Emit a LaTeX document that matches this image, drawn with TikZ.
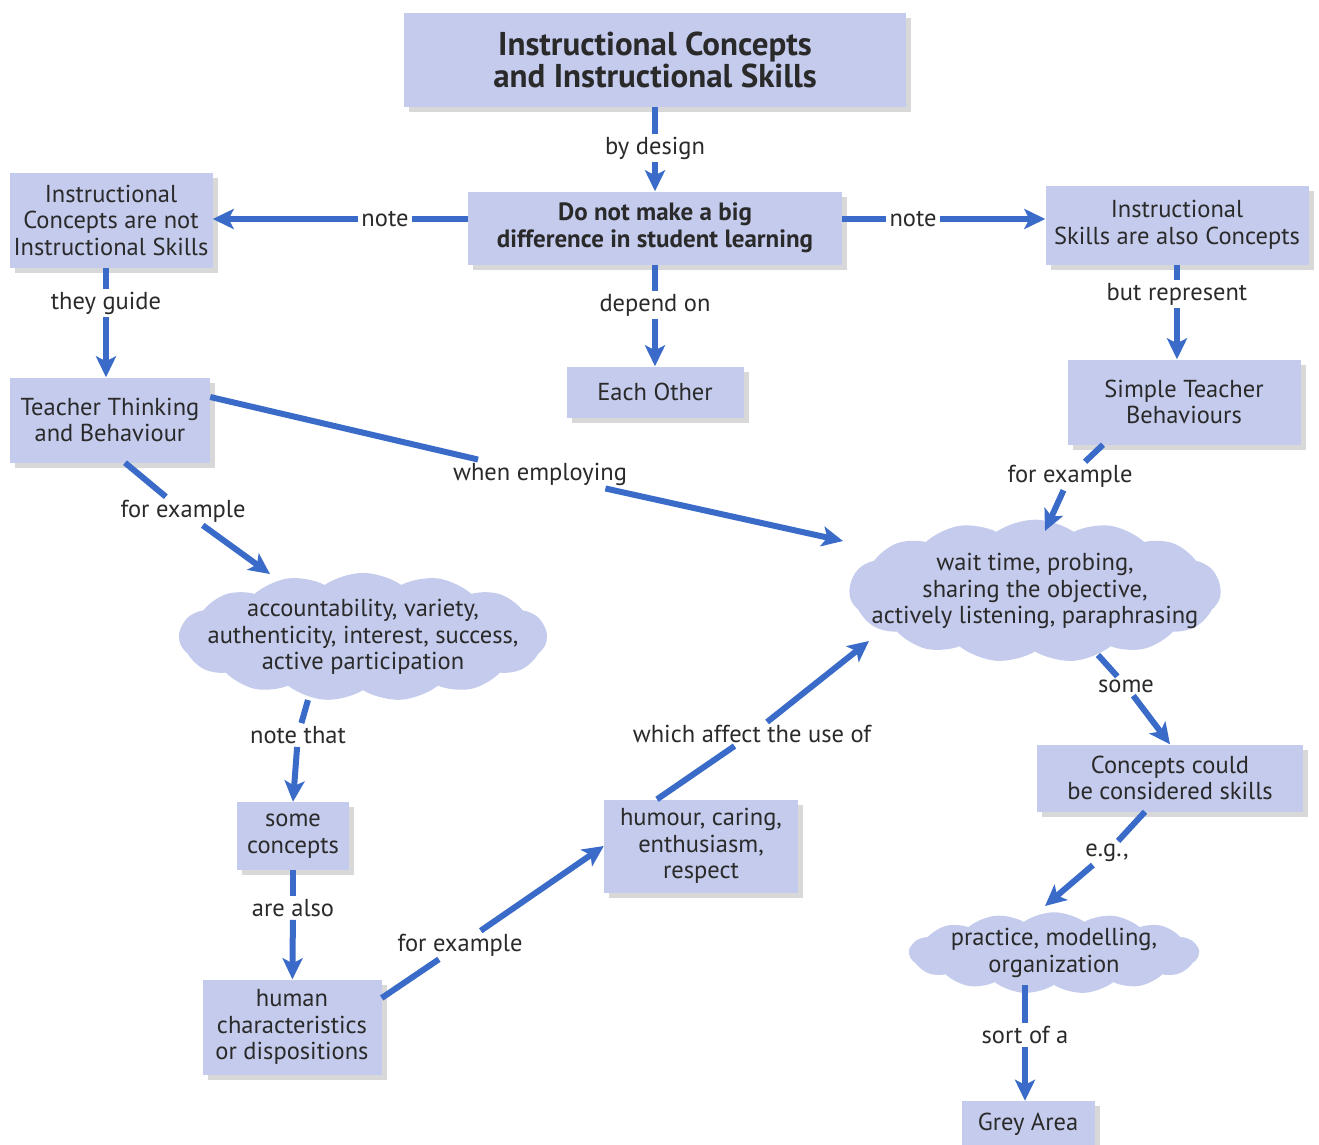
\documentclass[tikz,border=0pt]{standalone}
\usepackage{fontspec}
\setmainfont{PT Sans}
\usetikzlibrary{shapes.symbols,shadows,arrows.meta,calc}
\definecolor{boxfill}{HTML}{C4CBEC}
\definecolor{arrc}{HTML}{3A6BC8}
\definecolor{textc}{HTML}{2A2A2A}
\tikzset{
  every node/.style={text=textc, align=center, font=\fontsize{24.5}{26.5}\selectfont},
  box/.style={fill=boxfill, inner sep=2pt,
     drop shadow={shadow xshift=5pt, shadow yshift=-5pt, fill=black!30, opacity=0.5}},
  puffy/.style={cloud, cloud puffs=15, cloud puff arc=70, cloud ignores aspect,
     fill=boxfill},
  lbl/.style={inner sep=3pt},
  ln/.style={draw=arrc, line width=6pt},
  ar/.style={draw=arrc, line width=6pt, -{Stealth[length=21pt,width=20pt,inset=5pt]}}
}
\begin{document}
\begin{tikzpicture}[x=1pt,y=-1pt]
\useasboundingbox[fill=white] (0,0) rectangle (1319,1145);
% boxes
\node[box, minimum width=502pt, minimum height=94pt, font=\bfseries\fontsize{33}{30}\selectfont] (title) at (655,60) {Instructional Concepts\\and Instructional Skills};
\node[box, minimum width=374pt, minimum height=73pt, font=\bfseries\fontsize{25}{26.5}\selectfont] (dn) at (655,228) {Do not make a big\\difference in student learning};
\node[box, minimum width=203pt, minimum height=95pt] (icn) at (111,220) {Instructional\\Concepts are not\\Instructional Skills};
\node[box, minimum width=263pt, minimum height=79pt] (isc) at (1177,225) {Instructional\\Skills are also Concepts};
\node[box, minimum width=177pt, minimum height=51pt] (eo) at (655,392) {Each Other};
\node[box, minimum width=200pt, minimum height=85pt] (tt) at (110,420) {Teacher Thinking\\and Behaviour};
\node[box, minimum width=233pt, minimum height=85pt] (stb) at (1184,402) {Simple Teacher\\Behaviours};
\node[puffy, inner xsep=-25pt, inner ysep=0pt] (acc) at (363,637) {accountability, variety,\\authenticity, interest, success,\\active participation};
\node[puffy, inner xsep=-32pt, inner ysep=5pt] (wt) at (1035,591) {wait time, probing,\\sharing the objective,\\actively listening, paraphrasing};
\node[box, minimum width=112pt, minimum height=68pt] (sc) at (293,836) {some\\concepts};
\node[box, minimum width=179pt, minimum height=95pt] (hum) at (292,1027) {human\\characteristics\\or dispositions};
\node[box, minimum width=194pt, minimum height=93pt] (hcer) at (701,846) {humour, caring,\\enthusiasm,\\respect};
\node[box, minimum width=266pt, minimum height=67pt] (ccs) at (1170,778) {Concepts could\\be considered skills};
\node[puffy, inner xsep=0pt, inner ysep=-2pt] (pmo) at (1054,953) {practice, modelling,\\organization};
\node[box, minimum width=133pt, minimum height=46pt] (ga) at (1028,1124) {Grey Area};
% labels
\node[lbl] (L1) at (655,148) {by design};
\node[lbl] (L2) at (385,219) {note};
\node[lbl] (L3) at (913,219) {note};
\node[lbl] (L4) at (655,305) {depend on};
\node[lbl] (L5) at (106,303) {they guide};
\node[lbl] (L6) at (1177,294) {but represent};
\node[lbl] (L7) at (540,474) {when employing};
\node[lbl] (L8) at (183,511) {for example};
\node[lbl] (L9) at (1070,476) {for example};
\node[lbl] (L10) at (298,735) {note that};
\node[lbl] (L11) at (293,908) {are also};
\node[lbl] (L12) at (460,945) {for example};
\node[lbl] (L13) at (752,734) {which affect the use of};
\node[lbl] (L14) at (1126,686) {some};
\node[lbl] (L15) at (1107,853) {e.g.,};
\node[lbl] (L16) at (1025,1035) {sort of a};
% free ends
\coordinate (e7) at (843,541);
\coordinate (e8) at (270,574);
\coordinate (e9) at (1045,531);
\coordinate (s10) at (308,700);
\coordinate (e13) at (869,641);
\coordinate (s14) at (1098,655);
\coordinate (e15) at (1045,906);
% connectors
\draw[ln] (title) -- (L1); \draw[ar] (L1) -- (dn);
\draw[ln] (dn.west |- L2) -- (L2); \draw[ar] (L2) -- (icn.east |- L2);
\draw[ln] (dn.east |- L3) -- (L3); \draw[ar] (L3) -- (isc.west |- L3);
\draw[ln] (dn) -- (L4); \draw[ar] (L4) -- (eo);
\draw[ln] (icn.south -| L5) -- (L5); \draw[ar] (L5) -- (tt.north -| L5);
\draw[ln] (isc.south -| L6) -- (L6); \draw[ar] (L6) -- (stb.north -| L6);
\draw[ln] ([yshift=23pt]tt.east) -- (L7); \draw[ar] (L7) -- (e7);
\draw[ln] ([xshift=15pt]tt.south) -- (L8); \draw[ar] (L8) -- (e8);
\draw[ln] ([xshift=-81pt]stb.south) -- (L9); \draw[ar] (L9) -- (e9);
\draw[ln] (s10) -- (L10); \draw[ar] (L10) -- (sc.north);
\draw[ln] (sc) -- (L11); \draw[ar] (L11) -- (hum);
\draw[ln] ([yshift=29pt]hum.east) -- (L12); \draw[ar] (L12) -- (hcer.west);
\draw[ln] ([xshift=-44pt]hcer.north) -- (L13); \draw[ar] (L13) -- (e13);
\draw[ln] (s14) -- (L14); \draw[ar] (L14) -- (ccs.north);
\draw[ln] ([xshift=-25pt]ccs.south) -- (L15); \draw[ar] (L15) -- (e15);
\draw[ln] (pmo.south -| L16) -- (L16); \draw[ar] (L16) -- (ga.north -| L16);
\end{tikzpicture}
\end{document}
